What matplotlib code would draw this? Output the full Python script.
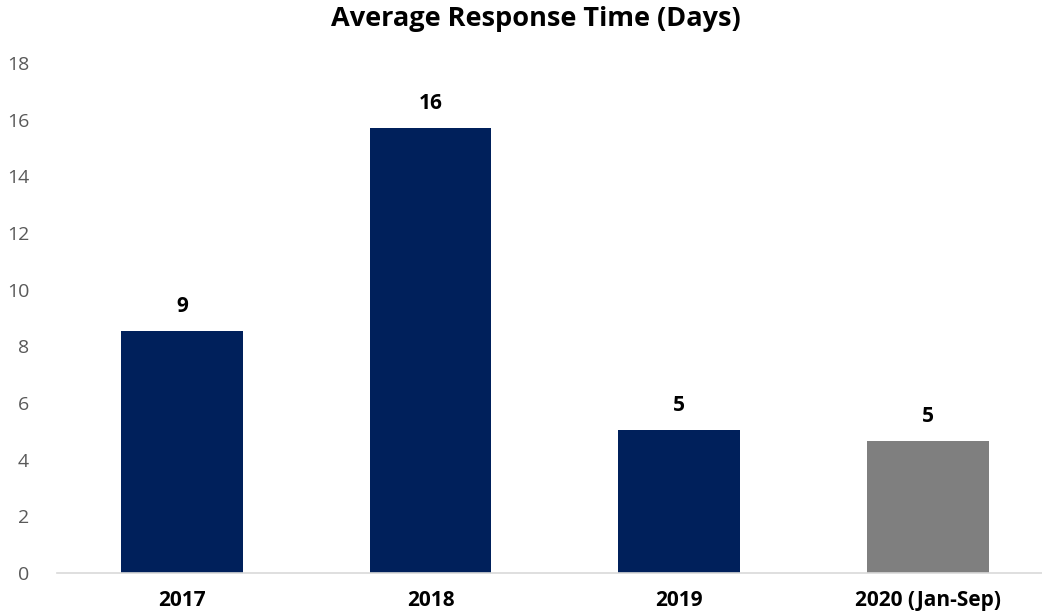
import matplotlib.pyplot as plt

# average response time per year, in days
years = ['2017', '2018', '2019', '2020 (Jan-Sep)']
days = [8.55, 15.7, 5.05, 4.65]
colors = ['#00205B', '#00205B', '#00205B', '#7F7F7F']

plt.rcParams['font.family'] = ['Open Sans', 'DejaVu Sans']

fig = plt.figure(figsize=(10.42, 6.15), dpi=100)
ax = fig.add_axes([0.0547, 0.0683, 0.9453, 0.8293])

x = range(len(years))
bars = ax.bar(x, days, width=0.49, color=colors, zorder=2)

for b, v in zip(bars, days):
    ax.text(b.get_x() + b.get_width() / 2, v + 0.5, f'{v:.0f}',
            ha='center', va='bottom', fontsize=15, fontweight='bold', color='black')

ax.set_xlim(-0.503, 3.46)
ax.set_ylim(0, 18)
ax.set_yticks(range(0, 19, 2))
ax.set_xticks(list(x))
ax.set_xticklabels(years, fontsize=15, fontweight='bold', color='black')
ax.tick_params(axis='y', labelsize=14, labelcolor='#595959', length=0, pad=20)
ax.tick_params(axis='x', length=0, pad=12)

for s in ['top', 'right', 'left']:
    ax.spines[s].set_visible(False)
ax.spines['bottom'].set_color('#D9D9D9')
ax.spines['bottom'].set_linewidth(1.2)

fig.suptitle('Average Response Time (Days)', fontsize=19.5, fontweight='bold',
             x=0.514, y=0.99)

plt.savefig('out.png', dpi=100)
